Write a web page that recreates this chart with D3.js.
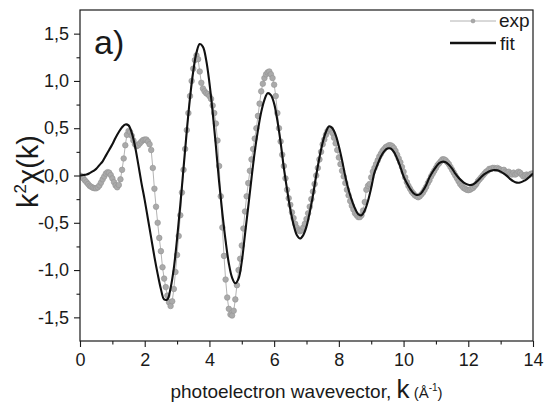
<!DOCTYPE html>
<html>
<head>
<meta charset="utf-8">
<title>EXAFS k2chi(k) - exp vs fit</title>
<script src="https://d3js.org/d3.v7.min.js"></script>
<style>
  body { margin: 0; background: #fff; }
  svg text { font-family: Arial, "Liberation Sans", sans-serif; fill: #1a1a1a; }
</style>
</head>
<body>
<svg id="chart" width="545" height="415"></svg>
<script>
// experimental k2chi(k), one value every 0.05 A^-1 from k = 0
var expStep = 0.05;
var expChi = [
  0.00, -0.01, -0.03, -0.05, -0.07, -0.09, -0.11, -0.12, -0.13, -0.135,
  -0.135, -0.125, -0.105, -0.075, -0.04, -0.01, 0.02, 0.035, 0.03, 0.005,
  -0.03, -0.07, -0.105, -0.125, -0.10, -0.04, 0.06, 0.18, 0.32, 0.43,
  0.47, 0.46, 0.42, 0.37, 0.33, 0.31, 0.32, 0.34, 0.36, 0.375,
  0.38, 0.38, 0.36, 0.33, 0.27, 0.08, -0.14, -0.33, -0.50, -0.66,
  -0.80, -0.97, -1.09, -1.18, -1.27, -1.34, -1.38, -1.33, -1.20, -1.02,
  -0.84, -0.64, -0.42, -0.18, 0.06, 0.28, 0.48, 0.66, 0.84, 1.00,
  1.13, 1.22, 1.27, 1.23, 1.10, 0.98, 0.92, 0.89, 0.87, 0.86,
  0.84, 0.81, 0.74, 0.66, 0.55, 0.37, 0.10, -0.22, -0.55, -0.85,
  -1.10, -1.29, -1.41, -1.47, -1.48, -1.43, -1.31, -1.16, -1.00, -0.88,
  -0.74, -0.56, -0.38, -0.22, -0.08, 0.05, 0.17, 0.28, 0.39, 0.50,
  0.63, 0.76, 0.89, 0.97, 1.03, 1.07, 1.09, 1.10, 1.07, 1.03,
  0.96, 0.84, 0.66, 0.50, 0.36, 0.22, 0.10, -0.03, -0.15, -0.24,
  -0.31, -0.39, -0.45, -0.51, -0.55, -0.58, -0.59, -0.58, -0.55, -0.51,
  -0.46, -0.40, -0.33, -0.25, -0.17, -0.09, 0.00, 0.08, 0.17, 0.25,
  0.33, 0.38, 0.43, 0.47, 0.49, 0.49, 0.45, 0.40, 0.34, 0.27,
  0.19, 0.12, 0.05, -0.01, -0.08, -0.15, -0.21, -0.27, -0.32, -0.36,
  -0.40, -0.42, -0.44, -0.44, -0.42, -0.37, -0.28, -0.15, -0.11, -0.09,
  -0.02, 0.04, 0.08, 0.12, 0.16, 0.20, 0.23, 0.26, 0.28, 0.30,
  0.31, 0.32, 0.32, 0.31, 0.29, 0.26, 0.22, 0.18, 0.14, 0.09,
  0.04, -0.02, -0.07, -0.11, -0.14, -0.17, -0.19, -0.21, -0.22, -0.23,
  -0.22, -0.20, -0.18, -0.15, -0.12, -0.08, -0.05, -0.01, 0.02, 0.05,
  0.08, 0.11, 0.13, 0.15, 0.17, 0.17, 0.16, 0.14, 0.12, 0.09,
  0.06, 0.03, 0.00, -0.03, -0.06, -0.09, -0.11, -0.13, -0.14, -0.15,
  -0.155, -0.15, -0.14, -0.13, -0.11, -0.09, -0.06, -0.04, -0.02, 0.00,
  0.02, 0.04, 0.05, 0.07, 0.07, 0.08, 0.08, 0.07, 0.08, 0.07,
  0.06, 0.05, 0.06, 0.04, 0.03, 0.04, 0.02, 0.01, 0.03, 0.01,
  0.02, 0.04, 0.03, 0.01, -0.01, 0.00, 0.01, 0.00, 0.01, 0.02,
  0.02
];

// fitted curve, one value every 0.1 A^-1 from k = 0
var fitStep = 0.1;
var fitChi = [
  0.00, 0.005, 0.01, 0.025, 0.045, 0.07, 0.11, 0.15, 0.21, 0.27,
  0.33, 0.40, 0.46, 0.51, 0.54, 0.53, 0.45, 0.31, 0.12, -0.08,
  -0.26, -0.46, -0.66, -0.86, -1.04, -1.20, -1.31, -1.31, -1.19, -0.98,
  -0.67, -0.31, 0.08, 0.47, 0.82, 1.10, 1.30, 1.39, 1.36, 1.22,
  0.98, 0.67, 0.31, -0.07, -0.40, -0.69, -0.93, -1.08, -1.14, -1.09,
  -0.91, -0.62, -0.33, -0.03, 0.25, 0.48, 0.67, 0.80, 0.87, 0.85,
  0.76, 0.58, 0.35, 0.08, -0.15, -0.36, -0.52, -0.63, -0.666, -0.63,
  -0.54, -0.39, -0.21, 0.00, 0.19, 0.35, 0.46, 0.52, 0.50, 0.43,
  0.31, 0.16, -0.01, -0.15, -0.26, -0.35, -0.41, -0.42, -0.37, -0.27,
  -0.13, 0.03, 0.12, 0.20, 0.255, 0.285, 0.285, 0.25, 0.18, 0.09,
  -0.01, -0.08, -0.14, -0.185, -0.206, -0.20, -0.16, -0.10, -0.02, 0.04,
  0.09, 0.13, 0.146, 0.14, 0.114, 0.073, 0.02, -0.023, -0.057, -0.084,
  -0.098, -0.099, -0.082, -0.053, -0.016, 0.014, 0.036, 0.051, 0.058, 0.055,
  0.041, 0.02, -0.007, -0.038, -0.062, -0.075, -0.074, -0.06, -0.04, -0.01,
  0.02
];

var xTicks = [0, 2, 4, 6, 8, 10, 12, 14];
var xMinor = [1, 3, 5, 7, 9, 11, 13];
var yTicks = [-1.5, -1.0, -0.5, 0.0, 0.5, 1.0, 1.5];
var yMinor = [-1.25, -0.75, -0.25, 0.25, 0.75, 1.25];

var svg = d3.select("#chart"),
    width = +svg.attr("width"),
    height = +svg.attr("height"),
    margin = {top: 10, right: 12, bottom: 74, left: 80},
    w = width - margin.left - margin.right,
    h = height - margin.top - margin.bottom;

var x = d3.scaleLinear().domain([0, 14]).range([0, w]);
var y = d3.scaleLinear().domain([-1.75, 1.75]).range([h, 0]);

var g = svg.append("g").attr("transform", "translate(" + margin.left + "," + margin.top + ")");

var comma = function(d) { return d3.format(".1f")(d).replace(".", ",").replace("\u2212", "-"); };

// axes: major ticks with labels, minor ticks without
g.append("g").attr("transform", "translate(0," + h + ")")
    .call(d3.axisBottom(x).tickValues(xTicks).tickSize(6).tickPadding(6).tickFormat(d3.format("d")));
g.append("g").attr("transform", "translate(0," + h + ")")
    .call(d3.axisBottom(x).tickValues(xMinor).tickSize(3.5).tickFormat(""));
g.append("g")
    .call(d3.axisLeft(y).tickValues(yTicks).tickSize(6).tickPadding(5).tickFormat(comma));
g.append("g")
    .call(d3.axisLeft(y).tickValues(yMinor).tickSize(3.5).tickFormat(""));

g.selectAll(".domain").remove();
g.selectAll(".tick line").attr("stroke", "#1a1a1a").attr("stroke-width", 1.1);
g.selectAll(".tick text").attr("font-size", 18).attr("fill", "#1a1a1a")
    .style("font-family", "Arial, 'Liberation Sans', sans-serif");

// clip to the frame
g.append("clipPath").attr("id", "clip")
  .append("rect").attr("width", w).attr("height", h);

var plot = g.append("g").attr("clip-path", "url(#clip)");

var expPts = expChi.map(function(v, i) { return [i * expStep, v]; });
var fitPts = fitChi.map(function(v, i) { return [i * fitStep, v]; });

var lineExp = d3.line().x(function(d) { return x(d[0]); }).y(function(d) { return y(d[1]); });
var lineFit = d3.line().x(function(d) { return x(d[0]); }).y(function(d) { return y(d[1]); })
    .curve(d3.curveCatmullRom.alpha(0.5));

plot.append("path").datum(expPts)
    .attr("fill", "none").attr("stroke", "#a0a0a0").attr("stroke-width", 0.8)
    .attr("d", lineExp);

plot.selectAll("circle.exp").data(expPts).enter().append("circle")
    .attr("class", "exp")
    .attr("cx", function(d) { return x(d[0]); })
    .attr("cy", function(d) { return y(d[1]); })
    .attr("r", 2.8)
    .attr("fill", "#aaaaaa")
    .attr("stroke", "#939393")
    .attr("stroke-width", 0.6);

plot.append("path").datum(fitPts)
    .attr("fill", "none").attr("stroke", "#111").attr("stroke-width", 2.1)
    .attr("d", lineFit);

// frame
g.append("rect").attr("width", w).attr("height", h)
    .attr("fill", "none").attr("stroke", "#1a1a1a").attr("stroke-width", 1.2);

// panel label
g.append("text").attr("x", 14).attr("y", 44).attr("font-size", 34).text("a)");

// legend
var leg = g.append("g").attr("transform", "translate(" + (450 - margin.left) + ",0)");
leg.append("line").attr("x1", 0).attr("x2", 46).attr("y1", 11).attr("y2", 11)
    .attr("stroke", "#a0a0a0").attr("stroke-width", 0.8);
leg.append("circle").attr("cx", 23).attr("cy", 11).attr("r", 2)
    .attr("fill", "#a8a8a8").attr("stroke", "#8e8e8e").attr("stroke-width", 0.5);
leg.append("text").attr("x", 49).attr("y", 17).attr("font-size", 19).text("exp");
leg.append("line").attr("x1", 0).attr("x2", 46).attr("y1", 33).attr("y2", 33)
    .attr("stroke", "#111").attr("stroke-width", 2.4);
leg.append("text").attr("x", 50).attr("y", 40).attr("font-size", 19).text("fit");

// y axis title
var yt = svg.append("text")
    .attr("transform", "translate(38," + (margin.top + y(0) - 4) + ") rotate(-90)")
    .attr("text-anchor", "middle").attr("font-size", 29);
yt.append("tspan").text("k");
yt.append("tspan").attr("font-size", 17).attr("dy", -12).text("2");
yt.append("tspan").attr("dy", 12).text("\u03c7(k)");

// x axis title
var xt = svg.append("text")
    .attr("x", margin.left + w / 2).attr("y", 398)
    .attr("text-anchor", "middle").attr("font-size", 19);
xt.append("tspan").text("photoelectron wavevector, ");
xt.append("tspan").attr("font-size", 26).text("k");
xt.append("tspan").attr("font-size", 15).text(" (\u00c5");
xt.append("tspan").attr("font-size", 10).attr("dy", -7).text("-1");
xt.append("tspan").attr("font-size", 15).attr("dy", 7).text(")");
</script>
</body>
</html>
